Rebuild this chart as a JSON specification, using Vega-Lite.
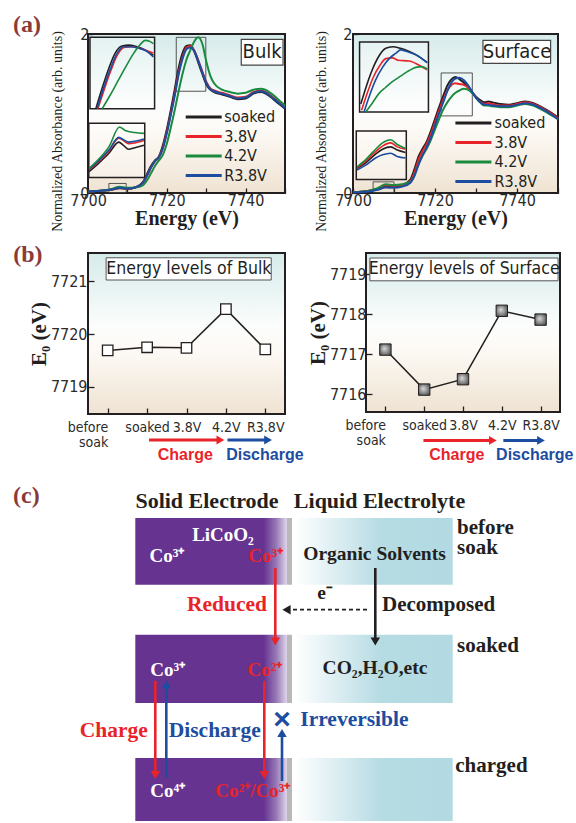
{
"$schema":"https://vega.github.io/schema/vega-lite/v6.json",
"background":"white",
"padding":{"left":11,"top":11,"right":0,"bottom":0},
"config":{
 "view":{"stroke":"#231f20","strokeWidth":2,"fill":{"gradient":"linear","x1":0,"y1":0,"x2":0,"y2":1,"stops":[{"offset":0,"color":"#d5ebea"},{"offset":0.45,"color":"#fbfdfc"},{"offset":0.6,"color":"#fdfaf6"},{"offset":1,"color":"#efe3d2"}]}},
 "axis":{"domain":false,"grid":false,"labelFlush":false,"labelOverlap":false,"tickColor":"#231f20","tickWidth":1.3,"labelColor":"#2b2b2b","titleColor":"#231f20"}
},
"datasets":{
 "bulk":[
{"p":"m","s":"soaked","E":7700,"A":0.02},{"p":"m","s":"soaked","E":7704,"A":0.03},{"p":"m","s":"soaked","E":7706,"A":0.04},{"p":"m","s":"soaked","E":7708,"A":0.06},{"p":"m","s":"soaked","E":7710,"A":0.05},{"p":"m","s":"soaked","E":7712,"A":0.07},{"p":"m","s":"soaked","E":7714,"A":0.14},{"p":"m","s":"soaked","E":7715,"A":0.24},{"p":"m","s":"soaked","E":7716,"A":0.34},{"p":"m","s":"soaked","E":7717,"A":0.41},{"p":"m","s":"soaked","E":7718,"A":0.46},{"p":"m","s":"soaked","E":7719,"A":0.6},{"p":"m","s":"soaked","E":7720,"A":0.8},{"p":"m","s":"soaked","E":7721,"A":1.04},{"p":"m","s":"soaked","E":7722,"A":1.3},{"p":"m","s":"soaked","E":7723,"A":1.57},{"p":"m","s":"soaked","E":7724,"A":1.76},{"p":"m","s":"soaked","E":7725,"A":1.85},{"p":"m","s":"soaked","E":7726,"A":1.86},{"p":"m","s":"soaked","E":7727,"A":1.78},{"p":"m","s":"soaked","E":7728,"A":1.64},{"p":"m","s":"soaked","E":7729,"A":1.5},{"p":"m","s":"soaked","E":7730,"A":1.37},{"p":"m","s":"soaked","E":7731,"A":1.3},{"p":"m","s":"soaked","E":7732,"A":1.27},{"p":"m","s":"soaked","E":7734,"A":1.24},{"p":"m","s":"soaked","E":7736,"A":1.21},{"p":"m","s":"soaked","E":7738,"A":1.18},{"p":"m","s":"soaked","E":7740,"A":1.19},{"p":"m","s":"soaked","E":7742,"A":1.25},{"p":"m","s":"soaked","E":7744,"A":1.27},{"p":"m","s":"soaked","E":7746,"A":1.22},{"p":"m","s":"soaked","E":7748,"A":1.14},{"p":"m","s":"soaked","E":7750,"A":1.06},
{"p":"m","s":"3.8V","E":7700,"A":0.02},{"p":"m","s":"3.8V","E":7704,"A":0.03},{"p":"m","s":"3.8V","E":7706,"A":0.045},{"p":"m","s":"3.8V","E":7708,"A":0.065},{"p":"m","s":"3.8V","E":7710,"A":0.055},{"p":"m","s":"3.8V","E":7712,"A":0.07},{"p":"m","s":"3.8V","E":7714,"A":0.13},{"p":"m","s":"3.8V","E":7715,"A":0.22},{"p":"m","s":"3.8V","E":7716,"A":0.32},{"p":"m","s":"3.8V","E":7717,"A":0.4},{"p":"m","s":"3.8V","E":7718,"A":0.45},{"p":"m","s":"3.8V","E":7719,"A":0.57},{"p":"m","s":"3.8V","E":7720,"A":0.76},{"p":"m","s":"3.8V","E":7721,"A":0.99},{"p":"m","s":"3.8V","E":7722,"A":1.24},{"p":"m","s":"3.8V","E":7723,"A":1.51},{"p":"m","s":"3.8V","E":7724,"A":1.71},{"p":"m","s":"3.8V","E":7725,"A":1.83},{"p":"m","s":"3.8V","E":7726,"A":1.85},{"p":"m","s":"3.8V","E":7727,"A":1.79},{"p":"m","s":"3.8V","E":7728,"A":1.67},{"p":"m","s":"3.8V","E":7729,"A":1.53},{"p":"m","s":"3.8V","E":7730,"A":1.4},{"p":"m","s":"3.8V","E":7731,"A":1.32},{"p":"m","s":"3.8V","E":7732,"A":1.29},{"p":"m","s":"3.8V","E":7734,"A":1.26},{"p":"m","s":"3.8V","E":7736,"A":1.23},{"p":"m","s":"3.8V","E":7738,"A":1.2},{"p":"m","s":"3.8V","E":7740,"A":1.21},{"p":"m","s":"3.8V","E":7742,"A":1.27},{"p":"m","s":"3.8V","E":7744,"A":1.29},{"p":"m","s":"3.8V","E":7746,"A":1.24},{"p":"m","s":"3.8V","E":7748,"A":1.16},{"p":"m","s":"3.8V","E":7750,"A":1.08},
{"p":"m","s":"4.2V","E":7700,"A":0.02},{"p":"m","s":"4.2V","E":7704,"A":0.03},{"p":"m","s":"4.2V","E":7706,"A":0.05},{"p":"m","s":"4.2V","E":7708,"A":0.08},{"p":"m","s":"4.2V","E":7710,"A":0.065},{"p":"m","s":"4.2V","E":7712,"A":0.07},{"p":"m","s":"4.2V","E":7714,"A":0.1},{"p":"m","s":"4.2V","E":7715,"A":0.16},{"p":"m","s":"4.2V","E":7716,"A":0.25},{"p":"m","s":"4.2V","E":7717,"A":0.34},{"p":"m","s":"4.2V","E":7718,"A":0.41},{"p":"m","s":"4.2V","E":7719,"A":0.48},{"p":"m","s":"4.2V","E":7720,"A":0.62},{"p":"m","s":"4.2V","E":7721,"A":0.82},{"p":"m","s":"4.2V","E":7722,"A":1.04},{"p":"m","s":"4.2V","E":7723,"A":1.28},{"p":"m","s":"4.2V","E":7724,"A":1.5},{"p":"m","s":"4.2V","E":7725,"A":1.68},{"p":"m","s":"4.2V","E":7726,"A":1.8},{"p":"m","s":"4.2V","E":7727,"A":1.91},{"p":"m","s":"4.2V","E":7728,"A":1.96},{"p":"m","s":"4.2V","E":7729,"A":1.88},{"p":"m","s":"4.2V","E":7730,"A":1.66},{"p":"m","s":"4.2V","E":7731,"A":1.48},{"p":"m","s":"4.2V","E":7732,"A":1.38},{"p":"m","s":"4.2V","E":7734,"A":1.3},{"p":"m","s":"4.2V","E":7736,"A":1.27},{"p":"m","s":"4.2V","E":7738,"A":1.25},{"p":"m","s":"4.2V","E":7740,"A":1.26},{"p":"m","s":"4.2V","E":7742,"A":1.3},{"p":"m","s":"4.2V","E":7744,"A":1.31},{"p":"m","s":"4.2V","E":7746,"A":1.27},{"p":"m","s":"4.2V","E":7748,"A":1.19},{"p":"m","s":"4.2V","E":7750,"A":1.1},
{"p":"m","s":"R3.8V","E":7700,"A":0.02},{"p":"m","s":"R3.8V","E":7704,"A":0.03},{"p":"m","s":"R3.8V","E":7706,"A":0.045},{"p":"m","s":"R3.8V","E":7708,"A":0.065},{"p":"m","s":"R3.8V","E":7710,"A":0.055},{"p":"m","s":"R3.8V","E":7712,"A":0.07},{"p":"m","s":"R3.8V","E":7714,"A":0.13},{"p":"m","s":"R3.8V","E":7715,"A":0.22},{"p":"m","s":"R3.8V","E":7716,"A":0.32},{"p":"m","s":"R3.8V","E":7717,"A":0.4},{"p":"m","s":"R3.8V","E":7718,"A":0.45},{"p":"m","s":"R3.8V","E":7719,"A":0.56},{"p":"m","s":"R3.8V","E":7720,"A":0.75},{"p":"m","s":"R3.8V","E":7721,"A":0.98},{"p":"m","s":"R3.8V","E":7722,"A":1.22},{"p":"m","s":"R3.8V","E":7723,"A":1.49},{"p":"m","s":"R3.8V","E":7724,"A":1.69},{"p":"m","s":"R3.8V","E":7725,"A":1.81},{"p":"m","s":"R3.8V","E":7726,"A":1.83},{"p":"m","s":"R3.8V","E":7727,"A":1.78},{"p":"m","s":"R3.8V","E":7728,"A":1.66},{"p":"m","s":"R3.8V","E":7729,"A":1.52},{"p":"m","s":"R3.8V","E":7730,"A":1.39},{"p":"m","s":"R3.8V","E":7731,"A":1.31},{"p":"m","s":"R3.8V","E":7732,"A":1.28},{"p":"m","s":"R3.8V","E":7734,"A":1.25},{"p":"m","s":"R3.8V","E":7736,"A":1.22},{"p":"m","s":"R3.8V","E":7738,"A":1.19},{"p":"m","s":"R3.8V","E":7740,"A":1.2},{"p":"m","s":"R3.8V","E":7742,"A":1.26},{"p":"m","s":"R3.8V","E":7744,"A":1.28},{"p":"m","s":"R3.8V","E":7746,"A":1.23},{"p":"m","s":"R3.8V","E":7748,"A":1.15},{"p":"m","s":"R3.8V","E":7750,"A":1.07},
{"p":"i1","s":"soaked","E":7702.0,"A":1.06},{"p":"i1","s":"soaked","E":7703.6,"A":1.32},{"p":"i1","s":"soaked","E":7705.3,"A":1.57},{"p":"i1","s":"soaked","E":7706.9,"A":1.76},{"p":"i1","s":"soaked","E":7708.6,"A":1.85},{"p":"i1","s":"soaked","E":7710.5,"A":1.86},{"p":"i1","s":"soaked","E":7712.5,"A":1.84},{"p":"i1","s":"soaked","E":7714.5,"A":1.8},{"p":"i1","s":"soaked","E":7716.6,"A":1.73},
{"p":"i1","s":"3.8V","E":7702.5,"A":1.06},{"p":"i1","s":"3.8V","E":7704.1,"A":1.3},{"p":"i1","s":"3.8V","E":7705.8,"A":1.54},{"p":"i1","s":"3.8V","E":7707.4,"A":1.73},{"p":"i1","s":"3.8V","E":7709.1,"A":1.83},{"p":"i1","s":"3.8V","E":7711,"A":1.84},{"p":"i1","s":"3.8V","E":7713,"A":1.82},{"p":"i1","s":"3.8V","E":7715,"A":1.79},{"p":"i1","s":"3.8V","E":7716.6,"A":1.76},
{"p":"i1","s":"R3.8V","E":7702.3,"A":1.06},{"p":"i1","s":"R3.8V","E":7703.9,"A":1.31},{"p":"i1","s":"R3.8V","E":7705.6,"A":1.55},{"p":"i1","s":"R3.8V","E":7707.2,"A":1.74},{"p":"i1","s":"R3.8V","E":7709,"A":1.84},{"p":"i1","s":"R3.8V","E":7711,"A":1.84},{"p":"i1","s":"R3.8V","E":7713,"A":1.82},{"p":"i1","s":"R3.8V","E":7715,"A":1.78},{"p":"i1","s":"R3.8V","E":7716.6,"A":1.71},
{"p":"i1","s":"4.2V","E":7703.6,"A":1.06},{"p":"i1","s":"4.2V","E":7705.5,"A":1.22},{"p":"i1","s":"4.2V","E":7707.5,"A":1.4},{"p":"i1","s":"4.2V","E":7709.5,"A":1.58},{"p":"i1","s":"4.2V","E":7711.5,"A":1.75},{"p":"i1","s":"4.2V","E":7713.3,"A":1.87},{"p":"i1","s":"4.2V","E":7714.5,"A":1.92},{"p":"i1","s":"4.2V","E":7715.6,"A":1.91},{"p":"i1","s":"4.2V","E":7716.6,"A":1.88},
{"p":"i2","s":"soaked","E":7700.3,"A":0.27},{"p":"i2","s":"soaked","E":7702.8,"A":0.38},{"p":"i2","s":"soaked","E":7705.3,"A":0.5},{"p":"i2","s":"soaked","E":7707.8,"A":0.64},{"p":"i2","s":"soaked","E":7709,"A":0.6},{"p":"i2","s":"soaked","E":7710.3,"A":0.55},{"p":"i2","s":"soaked","E":7711.9,"A":0.57},{"p":"i2","s":"soaked","E":7714.2,"A":0.6},
{"p":"i2","s":"3.8V","E":7700.3,"A":0.29},{"p":"i2","s":"3.8V","E":7702.8,"A":0.4},{"p":"i2","s":"3.8V","E":7705.3,"A":0.53},{"p":"i2","s":"3.8V","E":7707.8,"A":0.69},{"p":"i2","s":"3.8V","E":7709,"A":0.66},{"p":"i2","s":"3.8V","E":7710.3,"A":0.62},{"p":"i2","s":"3.8V","E":7711.9,"A":0.63},{"p":"i2","s":"3.8V","E":7714.2,"A":0.66},
{"p":"i2","s":"R3.8V","E":7700.3,"A":0.3},{"p":"i2","s":"R3.8V","E":7702.8,"A":0.41},{"p":"i2","s":"R3.8V","E":7705.3,"A":0.54},{"p":"i2","s":"R3.8V","E":7707.8,"A":0.7},{"p":"i2","s":"R3.8V","E":7709,"A":0.67},{"p":"i2","s":"R3.8V","E":7710.3,"A":0.64},{"p":"i2","s":"R3.8V","E":7711.9,"A":0.65},{"p":"i2","s":"R3.8V","E":7714.2,"A":0.68},
{"p":"i2","s":"4.2V","E":7700.3,"A":0.31},{"p":"i2","s":"4.2V","E":7702.8,"A":0.43},{"p":"i2","s":"4.2V","E":7705.3,"A":0.58},{"p":"i2","s":"4.2V","E":7708,"A":0.83},{"p":"i2","s":"4.2V","E":7709.3,"A":0.79},{"p":"i2","s":"4.2V","E":7710.5,"A":0.77},{"p":"i2","s":"4.2V","E":7711.9,"A":0.76},{"p":"i2","s":"4.2V","E":7714.2,"A":0.75}
 ],
 "surf":[
{"p":"m","s":"soaked","E":7700,"A":0.01},{"p":"m","s":"soaked","E":7704,"A":0.03},{"p":"m","s":"soaked","E":7706,"A":0.05},{"p":"m","s":"soaked","E":7708,"A":0.09},{"p":"m","s":"soaked","E":7710,"A":0.08},{"p":"m","s":"soaked","E":7712,"A":0.1},{"p":"m","s":"soaked","E":7714,"A":0.17},{"p":"m","s":"soaked","E":7715,"A":0.3},{"p":"m","s":"soaked","E":7716,"A":0.46},{"p":"m","s":"soaked","E":7717,"A":0.56},{"p":"m","s":"soaked","E":7718,"A":0.65},{"p":"m","s":"soaked","E":7719,"A":0.78},{"p":"m","s":"soaked","E":7720,"A":0.93},{"p":"m","s":"soaked","E":7721,"A":1.08},{"p":"m","s":"soaked","E":7722,"A":1.22},{"p":"m","s":"soaked","E":7723,"A":1.35},{"p":"m","s":"soaked","E":7724,"A":1.43},{"p":"m","s":"soaked","E":7725,"A":1.46},{"p":"m","s":"soaked","E":7726,"A":1.43},{"p":"m","s":"soaked","E":7727,"A":1.39},{"p":"m","s":"soaked","E":7728,"A":1.33},{"p":"m","s":"soaked","E":7729,"A":1.27},{"p":"m","s":"soaked","E":7730,"A":1.21},{"p":"m","s":"soaked","E":7731,"A":1.17},{"p":"m","s":"soaked","E":7732,"A":1.14},{"p":"m","s":"soaked","E":7733,"A":1.15},{"p":"m","s":"soaked","E":7734,"A":1.14},{"p":"m","s":"soaked","E":7736,"A":1.12},{"p":"m","s":"soaked","E":7738,"A":1.11},{"p":"m","s":"soaked","E":7740,"A":1.13},{"p":"m","s":"soaked","E":7742,"A":1.15},{"p":"m","s":"soaked","E":7744,"A":1.13},{"p":"m","s":"soaked","E":7746,"A":1.08},{"p":"m","s":"soaked","E":7748,"A":1.02},{"p":"m","s":"soaked","E":7750,"A":0.95},
{"p":"m","s":"3.8V","E":7700,"A":0.01},{"p":"m","s":"3.8V","E":7704,"A":0.03},{"p":"m","s":"3.8V","E":7706,"A":0.055},{"p":"m","s":"3.8V","E":7708,"A":0.1},{"p":"m","s":"3.8V","E":7710,"A":0.09},{"p":"m","s":"3.8V","E":7712,"A":0.1},{"p":"m","s":"3.8V","E":7714,"A":0.15},{"p":"m","s":"3.8V","E":7715,"A":0.26},{"p":"m","s":"3.8V","E":7716,"A":0.42},{"p":"m","s":"3.8V","E":7717,"A":0.53},{"p":"m","s":"3.8V","E":7718,"A":0.62},{"p":"m","s":"3.8V","E":7719,"A":0.74},{"p":"m","s":"3.8V","E":7720,"A":0.89},{"p":"m","s":"3.8V","E":7721,"A":1.04},{"p":"m","s":"3.8V","E":7722,"A":1.17},{"p":"m","s":"3.8V","E":7723,"A":1.29},{"p":"m","s":"3.8V","E":7724,"A":1.36},{"p":"m","s":"3.8V","E":7725,"A":1.38},{"p":"m","s":"3.8V","E":7726,"A":1.37},{"p":"m","s":"3.8V","E":7727,"A":1.36},{"p":"m","s":"3.8V","E":7728,"A":1.33},{"p":"m","s":"3.8V","E":7729,"A":1.27},{"p":"m","s":"3.8V","E":7730,"A":1.2},{"p":"m","s":"3.8V","E":7731,"A":1.15},{"p":"m","s":"3.8V","E":7732,"A":1.12},{"p":"m","s":"3.8V","E":7733,"A":1.13},{"p":"m","s":"3.8V","E":7734,"A":1.12},{"p":"m","s":"3.8V","E":7736,"A":1.1},{"p":"m","s":"3.8V","E":7738,"A":1.1},{"p":"m","s":"3.8V","E":7740,"A":1.12},{"p":"m","s":"3.8V","E":7742,"A":1.14},{"p":"m","s":"3.8V","E":7744,"A":1.12},{"p":"m","s":"3.8V","E":7746,"A":1.07},{"p":"m","s":"3.8V","E":7748,"A":1.01},{"p":"m","s":"3.8V","E":7750,"A":0.94},
{"p":"m","s":"4.2V","E":7700,"A":0.01},{"p":"m","s":"4.2V","E":7704,"A":0.03},{"p":"m","s":"4.2V","E":7706,"A":0.06},{"p":"m","s":"4.2V","E":7708,"A":0.11},{"p":"m","s":"4.2V","E":7710,"A":0.1},{"p":"m","s":"4.2V","E":7712,"A":0.11},{"p":"m","s":"4.2V","E":7714,"A":0.14},{"p":"m","s":"4.2V","E":7715,"A":0.22},{"p":"m","s":"4.2V","E":7716,"A":0.36},{"p":"m","s":"4.2V","E":7717,"A":0.47},{"p":"m","s":"4.2V","E":7718,"A":0.56},{"p":"m","s":"4.2V","E":7719,"A":0.67},{"p":"m","s":"4.2V","E":7720,"A":0.8},{"p":"m","s":"4.2V","E":7721,"A":0.93},{"p":"m","s":"4.2V","E":7722,"A":1.05},{"p":"m","s":"4.2V","E":7723,"A":1.14},{"p":"m","s":"4.2V","E":7724,"A":1.21},{"p":"m","s":"4.2V","E":7725,"A":1.26},{"p":"m","s":"4.2V","E":7726,"A":1.29},{"p":"m","s":"4.2V","E":7727,"A":1.31},{"p":"m","s":"4.2V","E":7728,"A":1.3},{"p":"m","s":"4.2V","E":7729,"A":1.26},{"p":"m","s":"4.2V","E":7730,"A":1.2},{"p":"m","s":"4.2V","E":7731,"A":1.14},{"p":"m","s":"4.2V","E":7732,"A":1.1},{"p":"m","s":"4.2V","E":7733,"A":1.1},{"p":"m","s":"4.2V","E":7734,"A":1.09},{"p":"m","s":"4.2V","E":7736,"A":1.08},{"p":"m","s":"4.2V","E":7738,"A":1.08},{"p":"m","s":"4.2V","E":7740,"A":1.1},{"p":"m","s":"4.2V","E":7742,"A":1.12},{"p":"m","s":"4.2V","E":7744,"A":1.1},{"p":"m","s":"4.2V","E":7746,"A":1.05},{"p":"m","s":"4.2V","E":7748,"A":0.99},{"p":"m","s":"4.2V","E":7750,"A":0.93},
{"p":"m","s":"R3.8V","E":7700,"A":0.01},{"p":"m","s":"R3.8V","E":7704,"A":0.02},{"p":"m","s":"R3.8V","E":7706,"A":0.04},{"p":"m","s":"R3.8V","E":7708,"A":0.07},{"p":"m","s":"R3.8V","E":7710,"A":0.065},{"p":"m","s":"R3.8V","E":7712,"A":0.08},{"p":"m","s":"R3.8V","E":7714,"A":0.13},{"p":"m","s":"R3.8V","E":7715,"A":0.22},{"p":"m","s":"R3.8V","E":7716,"A":0.36},{"p":"m","s":"R3.8V","E":7717,"A":0.48},{"p":"m","s":"R3.8V","E":7718,"A":0.58},{"p":"m","s":"R3.8V","E":7719,"A":0.7},{"p":"m","s":"R3.8V","E":7720,"A":0.85},{"p":"m","s":"R3.8V","E":7721,"A":1.0},{"p":"m","s":"R3.8V","E":7722,"A":1.14},{"p":"m","s":"R3.8V","E":7723,"A":1.28},{"p":"m","s":"R3.8V","E":7724,"A":1.39},{"p":"m","s":"R3.8V","E":7725,"A":1.44},{"p":"m","s":"R3.8V","E":7726,"A":1.45},{"p":"m","s":"R3.8V","E":7727,"A":1.42},{"p":"m","s":"R3.8V","E":7728,"A":1.36},{"p":"m","s":"R3.8V","E":7729,"A":1.28},{"p":"m","s":"R3.8V","E":7730,"A":1.2},{"p":"m","s":"R3.8V","E":7731,"A":1.14},{"p":"m","s":"R3.8V","E":7732,"A":1.11},{"p":"m","s":"R3.8V","E":7733,"A":1.11},{"p":"m","s":"R3.8V","E":7734,"A":1.1},{"p":"m","s":"R3.8V","E":7736,"A":1.09},{"p":"m","s":"R3.8V","E":7738,"A":1.09},{"p":"m","s":"R3.8V","E":7740,"A":1.11},{"p":"m","s":"R3.8V","E":7742,"A":1.13},{"p":"m","s":"R3.8V","E":7744,"A":1.11},{"p":"m","s":"R3.8V","E":7746,"A":1.06},{"p":"m","s":"R3.8V","E":7748,"A":1.0},{"p":"m","s":"R3.8V","E":7750,"A":0.93},
{"p":"i1","s":"soaked","E":7701.9,"A":1.12},{"p":"i1","s":"soaked","E":7703.3,"A":1.35},{"p":"i1","s":"soaked","E":7704.7,"A":1.55},{"p":"i1","s":"soaked","E":7706.3,"A":1.72},{"p":"i1","s":"soaked","E":7708,"A":1.82},{"p":"i1","s":"soaked","E":7709.6,"A":1.84},{"p":"i1","s":"soaked","E":7711.6,"A":1.82},{"p":"i1","s":"soaked","E":7713.7,"A":1.78},{"p":"i1","s":"soaked","E":7715.3,"A":1.74},{"p":"i1","s":"soaked","E":7718.1,"A":1.64},
{"p":"i1","s":"3.8V","E":7702.1,"A":1.04},{"p":"i1","s":"3.8V","E":7703.5,"A":1.26},{"p":"i1","s":"3.8V","E":7704.9,"A":1.45},{"p":"i1","s":"3.8V","E":7706.5,"A":1.6},{"p":"i1","s":"3.8V","E":7708,"A":1.69},{"p":"i1","s":"3.8V","E":7709.6,"A":1.7},{"p":"i1","s":"3.8V","E":7711,"A":1.67},{"p":"i1","s":"3.8V","E":7713.7,"A":1.66},{"p":"i1","s":"3.8V","E":7715.3,"A":1.63},{"p":"i1","s":"3.8V","E":7718.1,"A":1.55},
{"p":"i1","s":"R3.8V","E":7702.7,"A":1.02},{"p":"i1","s":"R3.8V","E":7704,"A":1.22},{"p":"i1","s":"R3.8V","E":7705.5,"A":1.42},{"p":"i1","s":"R3.8V","E":7707.2,"A":1.58},{"p":"i1","s":"R3.8V","E":7709,"A":1.7},{"p":"i1","s":"R3.8V","E":7710.5,"A":1.76},{"p":"i1","s":"R3.8V","E":7711.6,"A":1.8},{"p":"i1","s":"R3.8V","E":7713.7,"A":1.77},{"p":"i1","s":"R3.8V","E":7715.3,"A":1.74},{"p":"i1","s":"R3.8V","E":7718.1,"A":1.64},
{"p":"i1","s":"4.2V","E":7703.1,"A":1.02},{"p":"i1","s":"4.2V","E":7704.7,"A":1.13},{"p":"i1","s":"4.2V","E":7706.3,"A":1.25},{"p":"i1","s":"4.2V","E":7708,"A":1.33},{"p":"i1","s":"4.2V","E":7709.6,"A":1.4},{"p":"i1","s":"4.2V","E":7711.6,"A":1.47},{"p":"i1","s":"4.2V","E":7713.7,"A":1.54},{"p":"i1","s":"4.2V","E":7715.3,"A":1.58},{"p":"i1","s":"4.2V","E":7716.8,"A":1.59},{"p":"i1","s":"4.2V","E":7718.1,"A":1.56},
{"p":"i2","s":"soaked","E":7701,"A":0.31},{"p":"i2","s":"soaked","E":7703.1,"A":0.38},{"p":"i2","s":"soaked","E":7705.5,"A":0.49},{"p":"i2","s":"soaked","E":7707.2,"A":0.55},{"p":"i2","s":"soaked","E":7709.2,"A":0.58},{"p":"i2","s":"soaked","E":7710.8,"A":0.54},{"p":"i2","s":"soaked","E":7712.8,"A":0.51},
{"p":"i2","s":"3.8V","E":7701,"A":0.32},{"p":"i2","s":"3.8V","E":7703.1,"A":0.4},{"p":"i2","s":"3.8V","E":7705.5,"A":0.52},{"p":"i2","s":"3.8V","E":7707.2,"A":0.59},{"p":"i2","s":"3.8V","E":7709.2,"A":0.63},{"p":"i2","s":"3.8V","E":7710.8,"A":0.58},{"p":"i2","s":"3.8V","E":7712.8,"A":0.55},
{"p":"i2","s":"4.2V","E":7701,"A":0.33},{"p":"i2","s":"4.2V","E":7703.1,"A":0.42},{"p":"i2","s":"4.2V","E":7705.5,"A":0.55},{"p":"i2","s":"4.2V","E":7707.2,"A":0.63},{"p":"i2","s":"4.2V","E":7709.2,"A":0.67},{"p":"i2","s":"4.2V","E":7710.8,"A":0.61},{"p":"i2","s":"4.2V","E":7712.8,"A":0.56},
{"p":"i2","s":"R3.8V","E":7701,"A":0.29},{"p":"i2","s":"R3.8V","E":7703.1,"A":0.35},{"p":"i2","s":"R3.8V","E":7705.5,"A":0.44},{"p":"i2","s":"R3.8V","E":7707.2,"A":0.48},{"p":"i2","s":"R3.8V","E":7709.2,"A":0.5},{"p":"i2","s":"R3.8V","E":7710.8,"A":0.46},{"p":"i2","s":"R3.8V","E":7712.8,"A":0.44}
 ],
 "e0bulk":[{"stage":"before soak","i":0,"v":7719.69},{"stage":"soaked","i":1,"v":7719.75},{"stage":"3.8V","i":2,"v":7719.74},{"stage":"4.2V","i":3,"v":7720.47},{"stage":"R3.8V","i":4,"v":7719.71}],
 "e0surf":[{"stage":"before soak","i":0,"v":7717.11},{"stage":"soaked","i":1,"v":7716.11},{"stage":"3.8V","i":2,"v":7716.37},{"stage":"4.2V","i":3,"v":7718.08},{"stage":"R3.8V","i":4,"v":7717.86}],
 "diag":[
{"t":"(c)","x":-7.5,"y":1.1,"r":"lab"},
{"t":"Solid Electrode","x":11.9,"y":1.6,"r":"hd"},{"t":"Liquid Electrolyte","x":29.15,"y":1.6,"r":"hd"},
{"t":"LiCoO₂","x":13.5,"y":4.97,"r":"w"},{"t":"Co³⁺","x":7.9,"y":7.1,"r":"w"},{"t":"Co³⁺","x":7.97,"y":18.47,"r":"w"},{"t":"Co⁴⁺","x":7.97,"y":30.57,"r":"w"},
{"t":"Co³⁺","x":17.77,"y":7.1,"r":"rI"},{"t":"Co²⁺","x":17.7,"y":18.47,"r":"rI"},{"t":"Co²⁺/Co³⁺","x":16.48,"y":30.57,"r":"rI"},
{"t":"Organic Solvents","x":28.65,"y":6.9,"r":"dk"},{"t":"CO₂,H₂O,etc","x":28.7,"y":18.3,"r":"dk"},{"t":"e⁻","x":23.7,"y":10.8,"r":"dk"},
{"t":"before","x":36.9,"y":4.3,"r":"dkL"},{"t":"soak","x":36.9,"y":6.3,"r":"dkL"},{"t":"soaked","x":36.9,"y":16.1,"r":"dkL"},{"t":"charged","x":36.73,"y":28.13,"r":"dkL"},{"t":"Decomposed","x":29.4,"y":12.0,"r":"dkL"},
{"t":"Reduced","x":13.9,"y":12.0,"r":"rB"},{"t":"Charge","x":2.57,"y":24.63,"r":"rB"},
{"t":"Discharge","x":12.67,"y":24.63,"r":"bB"},{"t":"Irreversible","x":21.23,"y":23.47,"r":"bL"},
{"t":"×","x":19.4,"y":23.5,"r":"x"}
 ]
},
"resolve":{"scale":{"color":"independent","shape":"independent"},"legend":{"color":"independent","shape":"independent"}},
"spacing":20,
"vconcat":[
 {"spacing":9,
  "resolve":{"scale":{"color":"independent"},"legend":{"color":"independent"}},
  "vconcat":[
  {"hconcat":[
   {"width":197,"height":159,
    "encoding":{
     "x":{"field":"E","type":"quantitative","scale":{"domain":[7700,7750],"nice":false,"zero":false},
       "axis":{"values":[7700,7710,7720,7730,7740,7750],"format":"d","labelExpr":"datum.value % 20 == 0 ? datum.label : ''","tickSize":-5,"labelPadding":4,"labelFont":"Liberation Sans Narrow, DejaVu Sans Condensed, Liberation Sans, sans-serif","labelFontSize":16,"title":"Energy (eV)","titleFont":"Liberation Serif, Times New Roman, serif","titleFontSize":20,"titleFontWeight":"bold","titlePadding":0}},
     "y":{"field":"A","type":"quantitative","scale":{"domain":[0,2],"nice":false,"zero":false},
       "axis":{"values":[0,1,2],"format":"d","tickSize":-5,"labelPadding":4,"labelFont":"Liberation Sans Narrow, DejaVu Sans Condensed, Liberation Sans, sans-serif","labelFontSize":16,"title":"Normalized Absorbance (arb. units)","titleFont":"Liberation Serif, Times New Roman, serif","titleFontSize":14,"titleFontWeight":"normal","titleX":-24,"titleY":97}}
    },
    "layer":[
     {"data":{"values":[{"t":"(a)","E":7680.96,"A":2.114}]},"mark":{"type":"text","align":"left","baseline":"middle","font":"Liberation Serif, Times New Roman, serif","fontSize":24,"fontWeight":"bold","color":"#8b3a3a"},"encoding":{"text":{"field":"t"}}},
     {"data":{"values":[{"E":7700.5,"E2":7716.9,"A":1.059,"A2":1.958},{"E":7700.2,"E2":7714.4,"A":0.194,"A2":0.877}]},"mark":{"type":"rect","fill":"#ffffff","fillOpacity":0.35,"stroke":"#231f20","strokeWidth":1.5},"encoding":{"x2":{"field":"E2"},"y2":{"field":"A2"}}},
     {"data":{"values":[{"E":7722.4,"E2":7729.9,"A":1.28,"A2":1.958},{"E":7705.3,"E2":7709.7,"A":0.005,"A2":0.12}]},"mark":{"type":"rect","fill":"transparent","stroke":"#444444","strokeWidth":0.9},"encoding":{"x2":{"field":"E2"},"y2":{"field":"A2"}}},
     {"data":{"name":"bulk"},"transform":[{"filter":"datum.p == 'm'"}],"mark":{"type":"line","strokeWidth":2,"interpolate":"monotone"},
      "encoding":{"color":{"field":"s","type":"nominal","scale":{"domain":["soaked","3.8V","4.2V","R3.8V"],"range":["#231f20","#e8242a","#1a8a3e","#1c4da0"]},
        "legend":{"orient":"none","legendX":107.7,"legendY":75,"title":null,"symbolType":"M-3,0H3","symbolSize":144,"symbolStrokeWidth":3,"labelFont":"Liberation Sans Narrow, DejaVu Sans Condensed, Liberation Sans, sans-serif","labelFontSize":16,"labelColor":"#231f20","labelOffset":12.5,"rowPadding":3.5,"padding":0}},
       "detail":{"field":"p"}}},
     {"data":{"name":"bulk"},"transform":[{"filter":"datum.p != 'm'"}],"mark":{"type":"line","strokeWidth":1.6,"interpolate":"monotone"},
      "encoding":{"color":{"field":"s","type":"nominal"},"detail":{"field":"p"}}},
     {"data":{"values":[{"E":7738.9,"E2":7749.5,"A":1.608,"A2":1.932}]},"mark":{"type":"rect","fill":"#ffffff","stroke":"#444444","strokeWidth":1.2},"encoding":{"x2":{"field":"E2"},"y2":{"field":"A2"}}},
     {"data":{"values":[{"t":"Bulk","E":7744.2,"A":1.77}]},"mark":{"type":"text","align":"center","baseline":"middle","font":"Liberation Sans Narrow, DejaVu Sans Condensed, Liberation Sans, sans-serif","fontSize":20,"color":"#231f20"},"encoding":{"text":{"field":"t"}}}
    ]},
   {"width":205,"height":159,
    "encoding":{
     "x":{"field":"E","type":"quantitative","scale":{"domain":[7700,7750],"nice":false,"zero":false},
       "axis":{"values":[7700,7710,7720,7730,7740,7750],"format":"d","labelExpr":"datum.value % 20 == 0 ? datum.label : ''","tickSize":-5,"labelPadding":4,"labelFont":"Liberation Sans Narrow, DejaVu Sans Condensed, Liberation Sans, sans-serif","labelFontSize":16,"title":"Energy (eV)","titleFont":"Liberation Serif, Times New Roman, serif","titleFontSize":20,"titleFontWeight":"bold","titlePadding":0}},
     "y":{"field":"A","type":"quantitative","scale":{"domain":[0,2],"nice":false,"zero":false},
       "axis":{"values":[0,1,2],"format":"d","tickSize":-5,"labelPadding":6,"labelFont":"Liberation Sans Narrow, DejaVu Sans Condensed, Liberation Sans, sans-serif","labelFontSize":16,"title":"Normalized Absorbance (arb. units)","titleFont":"Liberation Serif, Times New Roman, serif","titleFontSize":14,"titleFontWeight":"normal","titleX":-25,"titleY":97}}
    },
    "layer":[
     {"data":{"values":[{"t":"(a)","E":7744,"A":2.114}]},"mark":{"type":"text","align":"left","baseline":"middle","font":"Liberation Serif, Times New Roman, serif","fontSize":24,"fontWeight":"bold","opacity":0},"encoding":{"text":{"field":"t"}}},
     {"data":{"values":[{"E":7701.6,"E2":7718.4,"A":1.02,"A2":1.9},{"E":7700.8,"E2":7713,"A":0.17,"A2":0.78}]},"mark":{"type":"rect","fill":"#ffffff","fillOpacity":0.35,"stroke":"#231f20","strokeWidth":1.5},"encoding":{"x2":{"field":"E2"},"y2":{"field":"A2"}}},
     {"data":{"values":[{"E":7721.5,"E2":7729.1,"A":0.97,"A2":1.51},{"E":7704.9,"E2":7710,"A":0.005,"A2":0.14}]},"mark":{"type":"rect","fill":"transparent","stroke":"#444444","strokeWidth":0.9},"encoding":{"x2":{"field":"E2"},"y2":{"field":"A2"}}},
     {"data":{"name":"surf"},"transform":[{"filter":"datum.p == 'm'"}],"mark":{"type":"line","strokeWidth":2,"interpolate":"monotone"},
      "encoding":{"color":{"field":"s","type":"nominal","scale":{"domain":["soaked","3.8V","4.2V","R3.8V"],"range":["#231f20","#e8242a","#1a8a3e","#1c4da0"]},
        "legend":{"orient":"none","legendX":112.4,"legendY":81,"title":null,"symbolType":"M-3,0H3","symbolSize":144,"symbolStrokeWidth":3,"labelFont":"Liberation Sans Narrow, DejaVu Sans Condensed, Liberation Sans, sans-serif","labelFontSize":16,"labelColor":"#231f20","labelOffset":13,"rowPadding":3.5,"padding":0}},
       "detail":{"field":"p"}}},
     {"data":{"name":"surf"},"transform":[{"filter":"datum.p != 'm'"}],"mark":{"type":"line","strokeWidth":1.6,"interpolate":"monotone"},
      "encoding":{"color":{"field":"s","type":"nominal"},"detail":{"field":"p"}}},
     {"data":{"values":[{"E":7731.7,"E2":7748.2,"A":1.63,"A2":1.92}]},"mark":{"type":"rect","fill":"#ffffff","stroke":"#444444","strokeWidth":1.2},"encoding":{"x2":{"field":"E2"},"y2":{"field":"A2"}}},
     {"data":{"values":[{"t":"Surface","E":7740,"A":1.775}]},"mark":{"type":"text","align":"center","baseline":"middle","font":"Liberation Sans Narrow, DejaVu Sans Condensed, Liberation Sans, sans-serif","fontSize":20,"color":"#231f20"},"encoding":{"text":{"field":"t"}}}
    ]}
   ],
   "spacing":22,
   "resolve":{"scale":{"color":"independent"},"legend":{"color":"independent"}}
  },
  {"hconcat":[
   {"width":197,"height":161,
    "encoding":{
     "x":{"field":"i","type":"quantitative","scale":{"domain":[-0.5,4.5],"nice":false,"zero":false},
       "axis":{"values":[0,1,2,3,4],"labelExpr":"datum.value == 0 ? ['before','soak'] : datum.value == 1 ? 'soaked' : datum.value == 2 ? '3.8V' : datum.value == 3 ? '4.2V' : 'R3.8V'","labelAlign":{"condition":{"test":"datum.value == 0","value":"right"},"value":"center"},"tickSize":-6,"labelPadding":12,"labelBaseline":"top","labelLineHeight":15,"labelFont":"Liberation Sans Narrow, DejaVu Sans Condensed, Liberation Sans, sans-serif","labelFontSize":14,"title":null}},
     "y":{"field":"v","type":"quantitative","scale":{"domain":[7718.49,7721.53],"nice":false,"zero":false},
       "axis":{"values":[7719,7720,7721],"format":"d","tickSize":-6,"labelPadding":7,"labelFont":"Liberation Sans Narrow, DejaVu Sans Condensed, Liberation Sans, sans-serif","labelFontSize":16,"title":"E₀ (eV)","titleFont":"Liberation Serif, Times New Roman, serif","titleFontSize":21,"titleFontWeight":"bold","titleX":-39}}
    },
    "layer":[
     {"data":{"name":"e0bulk"},"mark":{"type":"line","color":"#231f20","strokeWidth":1.5}},
     {"data":{"name":"e0bulk"},"mark":{"type":"point","shape":"square","filled":true,"fill":"#ffffff","stroke":"#231f20","strokeWidth":1.3,"size":110,"opacity":1}},
     {"data":{"values":[{"i":-0.04,"i2":4.15,"v":7721.02,"v2":7721.44}]},"mark":{"type":"rect","fill":"#ffffff","stroke":"#555555","strokeWidth":1},"encoding":{"x2":{"field":"i2"},"y2":{"field":"v2"}}},
     {"data":{"values":[{"t":"Energy levels of Bulk","i":2.06,"v":7721.23}]},"mark":{"type":"text","align":"center","baseline":"middle","font":"Liberation Sans Narrow, DejaVu Sans Condensed, Liberation Sans, sans-serif","fontSize":17.5,"color":"#231f20"},"encoding":{"text":{"field":"t"}}},
     {"data":{"values":[{"t":"(b)","i":-2.4,"v":7721.49}]},"mark":{"type":"text","align":"left","baseline":"middle","font":"Liberation Serif, Times New Roman, serif","fontSize":24,"fontWeight":"bold","color":"#8b3a3a"},"encoding":{"text":{"field":"t"}}},
     {"data":{"values":[{"i":1.05,"i2":2.86,"v":7718.0}]},"mark":{"type":"rule","color":"#e8242a","strokeWidth":3},"encoding":{"x2":{"field":"i2"}}},
     {"data":{"values":[{"i":2.86,"v":7718.0}]},"mark":{"type":"point","shape":"triangle-right","filled":true,"color":"#e8242a","size":80,"opacity":1}},
     {"data":{"values":[{"i":3.04,"i2":4.07,"v":7718.0}]},"mark":{"type":"rule","color":"#1c4da0","strokeWidth":3},"encoding":{"x2":{"field":"i2"}}},
     {"data":{"values":[{"i":4.07,"v":7718.0}]},"mark":{"type":"point","shape":"triangle-right","filled":true,"color":"#1c4da0","size":80,"opacity":1}},
     {"data":{"values":[{"t":"Charge","i":1.97,"v":7717.72}]},"mark":{"type":"text","align":"center","baseline":"middle","font":"Liberation Sans, Arial, sans-serif","fontSize":16,"fontWeight":"bold","color":"#e8242a"},"encoding":{"text":{"field":"t"}}},
     {"data":{"values":[{"t":"Discharge","i":3.99,"v":7717.72}]},"mark":{"type":"text","align":"center","baseline":"middle","font":"Liberation Sans, Arial, sans-serif","fontSize":16,"fontWeight":"bold","color":"#1c4da0"},"encoding":{"text":{"field":"t"}}}
    ]},
   {"width":194,"height":159,
    "encoding":{
     "x":{"field":"i","type":"quantitative","scale":{"domain":[-0.5,4.5],"nice":false,"zero":false},
       "axis":{"values":[0,1,2,3,4],"labelExpr":"datum.value == 0 ? ['before','soak'] : datum.value == 1 ? 'soaked' : datum.value == 2 ? '3.8V' : datum.value == 3 ? '4.2V' : 'R3.8V'","labelAlign":{"condition":{"test":"datum.value == 0","value":"right"},"value":"center"},"tickSize":-6,"labelPadding":12,"labelBaseline":"top","labelLineHeight":15,"labelFont":"Liberation Sans Narrow, DejaVu Sans Condensed, Liberation Sans, sans-serif","labelFontSize":14,"title":null}},
     "y":{"field":"v","type":"quantitative","scale":{"domain":[7715.55,7719.525],"nice":false,"zero":false},
       "axis":{"values":[7716,7717,7718,7719],"format":"d","tickSize":-6,"labelPadding":6,"labelFont":"Liberation Sans Narrow, DejaVu Sans Condensed, Liberation Sans, sans-serif","labelFontSize":16,"title":"E₀ (eV)","titleFont":"Liberation Serif, Times New Roman, serif","titleFontSize":21,"titleFontWeight":"bold","titleX":-38}}
    },
    "layer":[
     {"data":{"values":[{"t":"(b)","i":2,"v":7719.46}]},"mark":{"type":"text","align":"center","baseline":"middle","font":"Liberation Serif, Times New Roman, serif","fontSize":24,"fontWeight":"bold","opacity":0},"encoding":{"text":{"field":"t"}}},
     {"data":{"name":"e0surf"},"mark":{"type":"line","color":"#231f20","strokeWidth":1.5}},
     {"data":{"name":"e0surf"},"mark":{"type":"point","shape":"square","filled":true,"fill":{"gradient":"radial","x1":0.4,"y1":0.4,"r1":0,"x2":0.5,"y2":0.5,"r2":0.75,"stops":[{"offset":0,"color":"#dcdcdc"},{"offset":1,"color":"#333333"}]},"stroke":"#231f20","strokeWidth":1,"size":130,"opacity":1}},
     {"data":{"values":[{"i":-0.4,"i2":4.45,"v":7718.83,"v2":7719.4}]},"mark":{"type":"rect","fill":"#ffffff","stroke":"#555555","strokeWidth":1},"encoding":{"x2":{"field":"i2"},"y2":{"field":"v2"}}},
     {"data":{"values":[{"t":"Energy levels of Surface","i":2.03,"v":7719.12}]},"mark":{"type":"text","align":"center","baseline":"middle","font":"Liberation Sans Narrow, DejaVu Sans Condensed, Liberation Sans, sans-serif","fontSize":17.5,"color":"#231f20"},"encoding":{"text":{"field":"t"}}},
     {"data":{"values":[{"i":0.98,"i2":2.77,"v":7714.84}]},"mark":{"type":"rule","color":"#e8242a","strokeWidth":3},"encoding":{"x2":{"field":"i2"}}},
     {"data":{"values":[{"i":2.77,"v":7714.84}]},"mark":{"type":"point","shape":"triangle-right","filled":true,"color":"#e8242a","size":80,"opacity":1}},
     {"data":{"values":[{"i":3.04,"i2":4.01,"v":7714.84}]},"mark":{"type":"rule","color":"#1c4da0","strokeWidth":3},"encoding":{"x2":{"field":"i2"}}},
     {"data":{"values":[{"i":4.01,"v":7714.84}]},"mark":{"type":"point","shape":"triangle-right","filled":true,"color":"#1c4da0","size":80,"opacity":1}},
     {"data":{"values":[{"t":"Charge","i":1.84,"v":7714.48}]},"mark":{"type":"text","align":"center","baseline":"middle","font":"Liberation Sans, Arial, sans-serif","fontSize":16,"fontWeight":"bold","color":"#e8242a"},"encoding":{"text":{"field":"t"}}},
     {"data":{"values":[{"t":"Discharge","i":3.85,"v":7714.48}]},"mark":{"type":"text","align":"center","baseline":"middle","font":"Liberation Sans, Arial, sans-serif","fontSize":16,"fontWeight":"bold","color":"#1c4da0"},"encoding":{"text":{"field":"t"}}}
    ]}
   ],
   "spacing":0
  }
 ]},
 {"width":490,"height":336,
  "view":{"stroke":null,"fill":null},
  "encoding":{
   "x":{"field":"x","type":"quantitative","scale":{"domain":[0,49],"nice":false,"zero":false},"axis":null},
   "y":{"field":"y","type":"quantitative","scale":{"domain":[0,33.6],"nice":false,"zero":false,"reverse":true},"axis":null}
  },
  "layer":[
   {"data":{"values":[{"x":4.73,"x2":20.4,"y":3.3,"y2":9.97},{"x":4.73,"x2":20.4,"y":14.97,"y2":21.8},{"x":4.73,"x2":20.4,"y":27.3,"y2":33.6}]},
    "mark":{"type":"rect","fill":{"gradient":"linear","x1":0,"y1":0,"x2":1,"y2":0,"stops":[{"offset":0,"color":"#663391"},{"offset":0.82,"color":"#663391"},{"offset":0.9,"color":"#9679b6"},{"offset":0.965,"color":"#dcd2e8"},{"offset":0.97,"color":"#b8b8b8"},{"offset":1,"color":"#b8b8b8"}]}},
    "encoding":{"x2":{"field":"x2"},"y2":{"field":"y2"}}},
   {"data":{"values":[{"x":20.7,"x2":36.47,"y":3.3,"y2":9.97},{"x":20.7,"x2":36.47,"y":14.97,"y2":21.8},{"x":20.7,"x2":36.47,"y":27.3,"y2":33.6}]},
    "mark":{"type":"rect","fill":{"gradient":"linear","x1":0,"y1":0,"x2":1,"y2":0,"stops":[{"offset":0,"color":"#ffffff"},{"offset":0.55,"color":"#b5dbe3"},{"offset":1,"color":"#b3dae2"}]}},
    "encoding":{"x2":{"field":"x2"},"y2":{"field":"y2"}}},
   {"data":{"values":[{"x":18.73,"x2":18.73,"y":8.3,"y2":15.6,"k":"red"},{"x":28.73,"x2":28.73,"y":8.3,"y2":15.6,"k":"black"},{"x":6.73,"x2":6.73,"y":19.6,"y2":28.9,"k":"red"},{"x":7.83,"x2":7.83,"y":29.3,"y2":20.2,"k":"blue"},{"x":17.63,"x2":17.63,"y":19.6,"y2":28.9,"k":"red"},{"x":19.4,"x2":19.4,"y":29.6,"y2":25.0,"k":"blue"}]},
    "mark":{"type":"rule","strokeWidth":2.6},
    "encoding":{"x2":{"field":"x2"},"y2":{"field":"y2"},"color":{"field":"k","type":"nominal","scale":{"domain":["red","blue","black"],"range":["#e8242a","#1c4da0","#231f20"]},"legend":null}}},
   {"data":{"values":[{"x":27.9,"x2":20.0,"y":12.47,"y2":12.47}]},"mark":{"type":"rule","strokeWidth":1.8,"strokeDash":[4,3],"color":"#231f20"},"encoding":{"x2":{"field":"x2"},"y2":{"field":"y2"}}},
   {"data":{"values":[{"x":18.73,"y":15.65,"d":"down","k":"red"},{"x":28.73,"y":15.65,"d":"down","k":"black"},{"x":19.85,"y":12.47,"d":"left","k":"black"},{"x":6.73,"y":29.0,"d":"down","k":"red"},{"x":7.83,"y":19.95,"d":"up","k":"blue"},{"x":17.63,"y":29.0,"d":"down","k":"red"},{"x":19.4,"y":24.8,"d":"up","k":"blue"}]},
    "mark":{"type":"point","filled":true,"size":90,"opacity":1},
    "encoding":{"shape":{"field":"d","type":"nominal","scale":{"domain":["down","up","left"],"range":["triangle-down","triangle-up","triangle-left"]},"legend":null},"color":{"field":"k","type":"nominal","legend":null}}},
   {"data":{"name":"diag"},"transform":[{"filter":"datum.r == 'lab'"}],"mark":{"type":"text","align":"left","baseline":"middle","font":"Liberation Serif, Times New Roman, serif","fontSize":24,"fontWeight":"bold","color":"#8b3a3a"},"encoding":{"text":{"field":"t"}}},
   {"data":{"name":"diag"},"transform":[{"filter":"datum.r == 'hd'"}],"mark":{"type":"text","align":"center","baseline":"middle","font":"Liberation Serif, Times New Roman, serif","fontSize":22,"fontWeight":"bold","color":"#231f20"},"encoding":{"text":{"field":"t"}}},
   {"data":{"name":"diag"},"transform":[{"filter":"datum.r == 'dk'"}],"mark":{"type":"text","align":"center","baseline":"middle","font":"Liberation Serif, Times New Roman, serif","fontSize":19.5,"fontWeight":"bold","color":"#231f20"},"encoding":{"text":{"field":"t"}}},
   {"data":{"name":"diag"},"transform":[{"filter":"datum.r == 'dkL'"}],"mark":{"type":"text","align":"left","baseline":"middle","font":"Liberation Serif, Times New Roman, serif","fontSize":21,"fontWeight":"bold","color":"#231f20"},"encoding":{"text":{"field":"t"}}},
   {"data":{"name":"diag"},"transform":[{"filter":"datum.r == 'w'"}],"mark":{"type":"text","align":"center","baseline":"middle","font":"Liberation Serif, Times New Roman, serif","fontSize":19,"fontWeight":"bold","color":"#ffffff"},"encoding":{"text":{"field":"t"}}},
   {"data":{"name":"diag"},"transform":[{"filter":"datum.r == 'rI'"}],"mark":{"type":"text","align":"center","baseline":"middle","font":"Liberation Serif, Times New Roman, serif","fontSize":19,"fontWeight":"bold","color":"#e8242a"},"encoding":{"text":{"field":"t"}}},
   {"data":{"name":"diag"},"transform":[{"filter":"datum.r == 'rB'"}],"mark":{"type":"text","align":"center","baseline":"middle","font":"Liberation Serif, Times New Roman, serif","fontSize":21.5,"fontWeight":"bold","color":"#e8242a"},"encoding":{"text":{"field":"t"}}},
   {"data":{"name":"diag"},"transform":[{"filter":"datum.r == 'bB'"}],"mark":{"type":"text","align":"center","baseline":"middle","font":"Liberation Serif, Times New Roman, serif","fontSize":21.5,"fontWeight":"bold","color":"#1c4da0"},"encoding":{"text":{"field":"t"}}},
   {"data":{"name":"diag"},"transform":[{"filter":"datum.r == 'bL'"}],"mark":{"type":"text","align":"left","baseline":"middle","font":"Liberation Serif, Times New Roman, serif","fontSize":21.5,"fontWeight":"bold","color":"#1c4da0"},"encoding":{"text":{"field":"t"}}},
   {"data":{"name":"diag"},"transform":[{"filter":"datum.r == 'x'"}],"mark":{"type":"text","align":"center","baseline":"middle","font":"Liberation Sans, Arial, sans-serif","fontSize":30,"fontWeight":"bold","color":"#1c4da0"},"encoding":{"text":{"field":"t"}}}
  ]}
]
}
